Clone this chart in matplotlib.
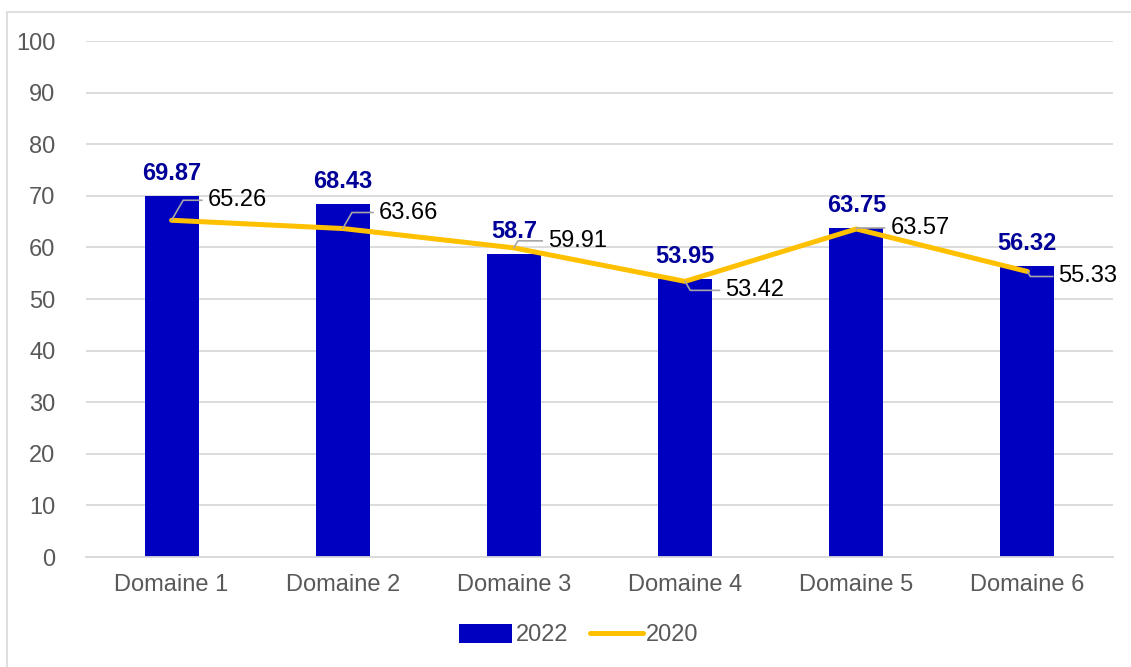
import matplotlib
matplotlib.use("Agg")
import matplotlib.pyplot as plt
from matplotlib.patches import Rectangle
import numpy as np

plt.rcParams["font.family"] = ["Liberation Sans", "DejaVu Sans"]

categories = ["Domaine 1", "Domaine 2", "Domaine 3", "Domaine 4", "Domaine 5", "Domaine 6"]
values_2022 = [69.87, 68.43, 58.7, 53.95, 63.75, 56.32]
values_2020 = [65.26, 63.66, 59.91, 53.42, 63.57, 55.33]
labels_2022 = ["69.87", "68.43", "58.7", "53.95", "63.75", "56.32"]
labels_2020 = ["65.26", "63.66", "59.91", "53.42", "63.57", "55.33"]
# label offsets (pixels) for the 2020 callouts: (dx, dy) from the point to the text
offsets_2020 = [(36, 20), (36, 16), (34, 7), (40, -9), (34, 1), (31, -5)]

BAR_COLOR = "#0000C0"
LINE_COLOR = "#FFC000"
TEXT_GRAY = "#595959"
GRID_GRAY = "#D9D9D9"

fig = plt.figure(figsize=(11.31, 6.67), dpi=100)
ax = fig.add_axes([86 / 1131, 1 - 557 / 667, (1113 - 86) / 1131, (557 - 41) / 667])

# outer chart border
fig.patches.append(Rectangle((7 / 1131, -0.01), 1.0, 1 - 12 / 667 + 0.01,
                             transform=fig.transFigure, fill=False,
                             edgecolor=GRID_GRAY, linewidth=1.2, zorder=0))

x = np.arange(len(categories))
bars = ax.bar(x, values_2022, width=0.315, color=BAR_COLOR, zorder=2, label="2022")
line, = ax.plot(x, values_2020, color=LINE_COLOR, linewidth=3.6, zorder=3,
                solid_capstyle="round", label="2020")

for xi, v, lab in zip(x, values_2022, labels_2022):
    ax.annotate(lab, (xi, v), xytext=(0, 11), textcoords="offset pixels",
                ha="center", va="bottom", fontsize=17, fontweight="bold",
                color="#000099", zorder=4)

for xi, v, lab, (dx, dy) in zip(x, values_2020, labels_2020, offsets_2020):
    ax.annotate(lab, (xi, v), xytext=(dx, dy), textcoords="offset pixels",
                ha="left", va="center", fontsize=17, color="black", zorder=4,
                arrowprops=dict(arrowstyle="-", color="#A6A6A6", lw=1.2,
                                shrinkA=2, shrinkB=0,
                                connectionstyle="angle,angleA=180,angleB=%d,rad=0"
                                % (60 if dy >= 0 else -60)))

ax.set_xlim(-0.5, len(categories) - 0.5)
ax.set_ylim(0, 100)
ax.set_yticks(np.arange(0, 101, 10))
ax.set_xticks(x)
ax.set_xticklabels(categories)
ax.tick_params(axis="both", length=0, labelsize=17, labelcolor=TEXT_GRAY)
ax.tick_params(axis="y", pad=22)
ax.tick_params(axis="x", pad=12)
ax.yaxis.grid(True, color=GRID_GRAY, linewidth=1.3, zorder=0)
ax.set_axisbelow(True)
for side in ["top", "right", "left"]:
    ax.spines[side].set_visible(False)
ax.spines["bottom"].set_color(GRID_GRAY)
ax.spines["bottom"].set_linewidth(1.3)

leg = fig.legend([bars, line], ["2022", "2020"], loc="center",
                 bbox_to_anchor=(579 / 1131, 1 - 635 / 667), ncol=2,
                 frameon=False, fontsize=17, handlelength=2.25, handletextpad=0.15,
                 columnspacing=0.9, handleheight=0.9)
for t in leg.get_texts():
    t.set_color(TEXT_GRAY)

fig.savefig("out.png", dpi=100)
